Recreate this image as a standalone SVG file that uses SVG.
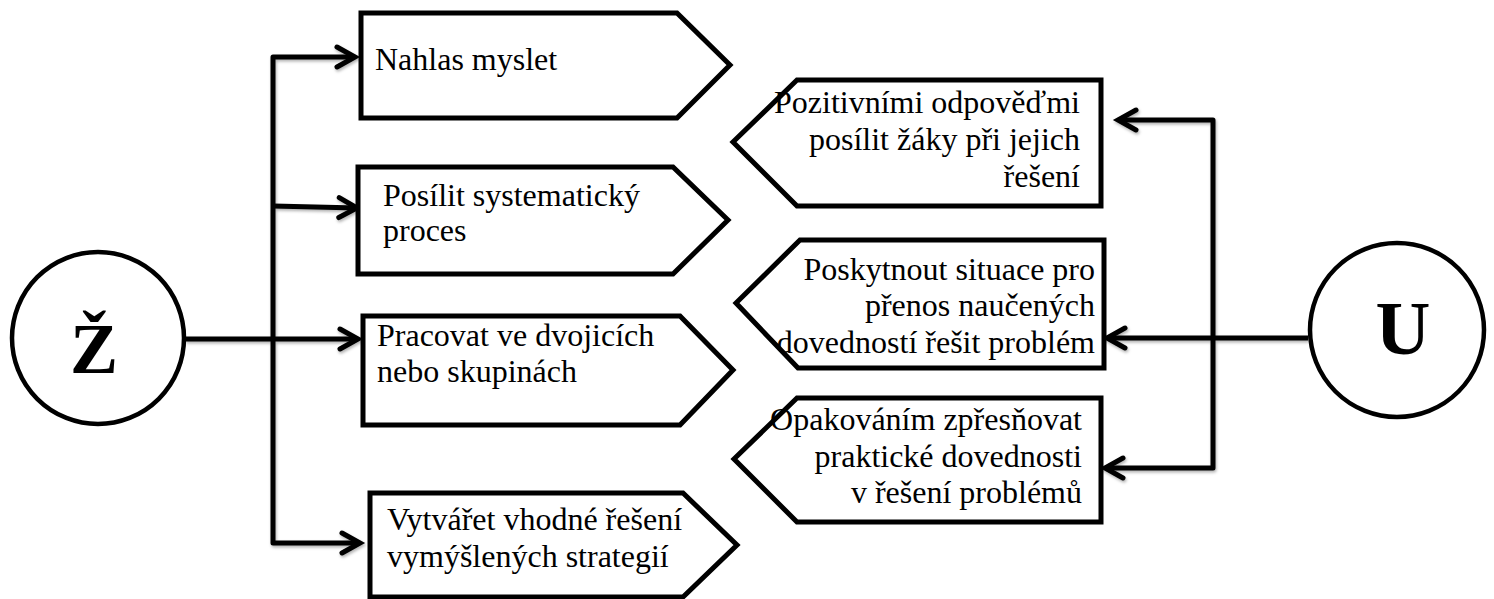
<svg xmlns="http://www.w3.org/2000/svg" width="1494" height="599" viewBox="0 0 1494 599">
<style>
.box{fill:#fff;stroke:#000;stroke-width:5;stroke-linejoin:miter}
.circ{fill:#fff;stroke:#000;stroke-width:4.5}
.t{font-family:"Liberation Serif","Times New Roman",serif;font-size:32px;fill:#000}
.r{text-anchor:end}
.big{font-family:"Liberation Serif","Times New Roman",serif;font-weight:bold;fill:#000;text-anchor:middle}
.con{fill:none;stroke:#000;stroke-width:5;stroke-linejoin:round}
</style>
<defs>
<marker id="arr" markerUnits="userSpaceOnUse" markerWidth="30" markerHeight="30" viewBox="0 0 30 30" refX="24" refY="15" orient="auto-start-reverse">
<path d="M6,5 L24,15 L6,25" fill="none" stroke="#000" stroke-width="5" stroke-linecap="round" stroke-linejoin="miter"/>
</marker>
<filter id="sh" x="-5%" y="-5%" width="110%" height="110%">
<feDropShadow dx="1" dy="2" stdDeviation="1.5" flood-color="#000" flood-opacity="0.3"/>
</filter>
</defs>

<g id="connectors" filter="url(#sh)">
<path class="con" d="M355,57 H273 V543 H360" marker-start="url(#arr)" marker-end="url(#arr)"/>
<path class="con" d="M273,206 L357,208" marker-end="url(#arr)"/>
<path class="con" d="M185,339 H358" marker-end="url(#arr)"/>
<path class="con" d="M1118,120 H1213 V468 H1105" marker-start="url(#arr)" marker-end="url(#arr)"/>
<path class="con" d="M1308,338 H1107" marker-end="url(#arr)"/>
</g>

<g id="node-Z">
<circle class="circ" cx="98" cy="338" r="86"/>
<text class="big" x="94" y="373" font-size="72">Ž</text>
</g>

<g id="node-U">
<circle class="circ" cx="1397" cy="330" r="87"/>
<text class="big" x="1403" y="354" font-size="76">U</text>
</g>

<g id="node-nahlas">
<polygon class="box" points="361,13 677,13 730,65 677,118 361,118"/>
<text class="t" x="375" y="70">Nahlas myslet</text>
</g>

<g id="node-posilit">
<polygon class="box" points="358,167 673,167 728,220 673,274 358,274"/>
<text class="t" x="383" y="206">Posílit systematický</text>
<text class="t" x="383" y="241">proces</text>
</g>

<g id="node-pracovat">
<polygon class="box" points="363,316 680,316 733,370 680,425 363,425"/>
<text class="t" x="377" y="346">Pracovat ve dvojicích</text>
<text class="t" x="377" y="382">nebo skupinách</text>
</g>

<g id="node-vytvaret">
<polygon class="box" points="370,493 683,493 737,545 683,597 370,597"/>
<text class="t" x="387" y="530">Vytvářet vhodné řešení</text>
<text class="t" x="387" y="567">vymýšlených strategií</text>
</g>

<g id="node-pozitivnimi">
<polygon class="box" points="1101,80 797,80 733,142 797,206 1101,206"/>
<text class="t r" x="1080" y="113">Pozitivními odpověďmi</text>
<text class="t r" x="1080" y="150">posílit žáky při jejich</text>
<text class="t r" x="1080" y="187">řešení</text>
</g>

<g id="node-poskytnout">
<polygon class="box" points="1104,240 800,240 736,303 798,368 1104,368"/>
<text class="t r" x="1095" y="280">Poskytnout situace pro</text>
<text class="t r" x="1095" y="316">přenos naučených</text>
<text class="t r" x="1095" y="353">dovedností řešit problém</text>
</g>

<g id="node-opakovanim">
<polygon class="box" points="1101,398 797,398 734,459 797,522 1101,522"/>
<text class="t r" x="1082" y="430">Opakováním zpřesňovat</text>
<text class="t r" x="1082" y="467">praktické dovednosti</text>
<text class="t r" x="1082" y="503">v řešení problémů</text>
</g>
</svg>
